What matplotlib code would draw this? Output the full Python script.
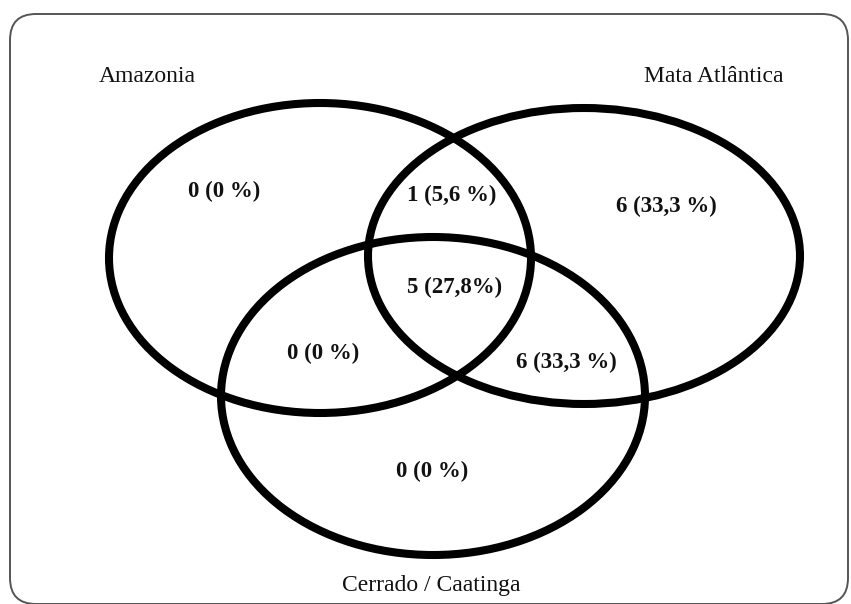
import matplotlib
matplotlib.use('Agg')
import matplotlib.pyplot as plt
from matplotlib.patches import Ellipse, FancyBboxPatch

# ── Data ─────────────────────────────────────────────────────────────────────
SETS = ['Amazonia', 'Mata Atlântica', 'Cerrado / Caatinga']
# regions: A only, A∩M only, M only, A∩M∩C, A∩C only, M∩C only, C only
REGIONS = ['A', 'AM', 'M', 'AMC', 'AC', 'MC', 'C']
COUNTS = [0, 1, 6, 5, 0, 6, 0]
PCT_SPACE = [True, True, True, False, True, True, True]
TOTAL = sum(COUNTS)

# ── Layout (pixel coords, y down) ────────────────────────────────────────────
W, H = 851, 604
ELLIPSES = [  # cx, cy, width, height
    (320, 258, 422, 310),
    (584, 256, 432, 296),
    (433, 396, 424, 318),
]
SET_LABEL_POS = [(147, 76), (714, 76), (431, 586)]
REGION_POS = {'A': (224, 191), 'AM': (452, 195), 'M': (666, 206),
              'AMC': (455, 287), 'AC': (323, 353), 'MC': (566, 362),
              'C': (432, 471)}


def fmt(count, space):
    pct = count / TOTAL * 100
    p = '0' if count == 0 else f'{pct:.1f}'.replace('.', ',')
    return f"{count} ({p}{' ' if space else ''}%)"


fig = plt.figure(figsize=(W / 100, H / 100), dpi=100)
ax = fig.add_axes([0, 0, 1, 1])
ax.set_xlim(0, W)
ax.set_ylim(H, 0)
ax.axis('off')

ax.add_patch(FancyBboxPatch((10, 14), 838, 590,
                            boxstyle='round,pad=0,rounding_size=26',
                            fc='white', ec='#555555', lw=1.4))

for cx, cy, w, h in ELLIPSES:
    ax.add_patch(Ellipse((cx, cy), w, h, fill=False, ec='black', lw=5.8))

for name, (x, y) in zip(SETS, SET_LABEL_POS):
    ax.text(x, y, name, ha='center', va='center', fontsize=17,
            family='Liberation Serif', color='#111111')

for reg, c, sp in zip(REGIONS, COUNTS, PCT_SPACE):
    x, y = REGION_POS[reg]
    ax.text(x, y, fmt(c, sp), ha='center', va='center', fontsize=16.5,
            family='Liberation Serif', fontweight='bold', color='#111111')

fig.savefig('out.png', dpi=100, facecolor='white')
